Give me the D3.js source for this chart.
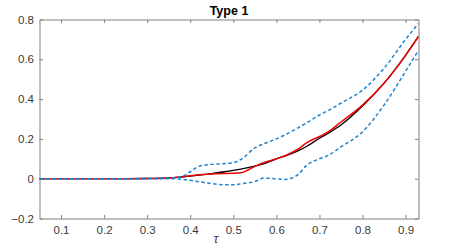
<!DOCTYPE html>
<html lang="en">

<head>
    <meta charset="utf-8">
    <title>Type 1</title>
    <script type="text/javascript" src="https://d3js.org/d3.v7.min.js"></script>
    <style type="text/css">
        body { margin: 0; background: #fff; }
        text { font-family: 'Liberation Sans', Arial, sans-serif; }
    </style>
</head>

<body>
    <script type="text/javascript">
        //Quantile levels (x values)
        const tau = [0.05, 0.1, 0.15, 0.2, 0.25, 0.3, 0.35, 0.38, 0.4, 0.42, 0.45, 0.48, 0.5, 0.52,
            0.55, 0.57, 0.6, 0.62, 0.65, 0.67, 0.7, 0.72, 0.75, 0.8, 0.85, 0.9, 0.93];

        //True curve (black)
        const truth = [0, 0, 0, 0, 0, 0.001, 0.004, 0.008, 0.013, 0.018, 0.026, 0.035, 0.042, 0.049,
            0.063, 0.074, 0.1, 0.114, 0.14, 0.162, 0.203, 0.228, 0.27, 0.365, 0.48, 0.62, 0.715];

        //Estimate (red)
        const estimate = [0, 0, 0, 0, 0, 0.001, 0.004, 0.01, 0.015, 0.02, 0.024, 0.026, 0.027, 0.031,
            0.062, 0.08, 0.1, 0.115, 0.148, 0.18, 0.212, 0.235, 0.285, 0.37, 0.48, 0.62, 0.715];

        //Confidence bands (blue dashed)
        const upper = [0, 0, 0, 0, 0, 0.001, 0.003, 0.01, 0.035, 0.062, 0.072, 0.076, 0.08, 0.1,
            0.155, 0.175, 0.2, 0.22, 0.255, 0.28, 0.32, 0.342, 0.38, 0.445, 0.555, 0.70, 0.78];
        const lower = [0, 0, 0, 0, 0, 0, 0, -0.003, -0.008, -0.015, -0.025, -0.03, -0.03, -0.025,
            -0.014, 0.003, 0, -0.004, 0.02, 0.067, 0.1, 0.117, 0.16, 0.235, 0.37, 0.54, 0.645];

        const xTicks = [0.1, 0.2, 0.3, 0.4, 0.5, 0.6, 0.7, 0.8, 0.9];
        const yTicks = [-0.2, 0, 0.2, 0.4, 0.6, 0.8];

        //Canvas attributes
        const canvasWidth = 451;
        const canvasHeight = 249;
        const plotLeft = 39.5, plotRight = 418.5, plotTop = 19.5, plotBottom = 218.5;

        //Scales
        const xScale = d3.scaleLinear()
            .domain([0.05, 0.93])
            .range([plotLeft, plotRight])

        const yScale = d3.scaleLinear()
            .domain([-0.2, 0.8])
            .range([plotBottom, plotTop])

        const svg = d3.select('body')
            .append('svg')
            .attr('width', canvasWidth)
            .attr('height', canvasHeight)

        svg.append('clipPath')
            .attr('id', 'plot-clip')
            .append('rect')
            .attr('x', plotLeft)
            .attr('y', plotTop - 5)
            .attr('width', plotRight - plotLeft)
            .attr('height', plotBottom - plotTop + 5)

        //Axes, MATLAB box style with inward ticks
        const axisColor = '#808080';
        const tickLen = 3.5;

        const bottomAxis = d3.axisBottom(xScale)
            .tickValues(xTicks)
            .tickSizeInner(-tickLen)
            .tickSizeOuter(0)
            .tickPadding(7.5)
            .tickFormat(d3.format('.1f'))
        const topAxis = d3.axisTop(xScale)
            .tickValues(xTicks)
            .tickSizeInner(-tickLen)
            .tickSizeOuter(0)
            .tickFormat('')
        const leftAxis = d3.axisLeft(yScale)
            .tickValues(yTicks)
            .tickSizeInner(-tickLen)
            .tickSizeOuter(0)
            .tickPadding(5.5)
            .tickFormat(d => d === 0 ? '0' : d3.format('.1f')(d))
        const rightAxis = d3.axisRight(yScale)
            .tickValues(yTicks)
            .tickSizeInner(-tickLen)
            .tickSizeOuter(0)
            .tickFormat('')

        const axes = [
            [bottomAxis, 'translate(0,' + plotBottom + ')'],
            [topAxis, 'translate(0,' + plotTop + ')'],
            [leftAxis, 'translate(' + plotLeft + ',0)'],
            [rightAxis, 'translate(' + plotRight + ',0)']
        ]
        axes.forEach(([ax, tr]) => {
            const g = svg.append('g').attr('transform', tr).call(ax)
            g.select('.domain').attr('stroke', axisColor).attr('stroke-width', 1)
            g.selectAll('.tick line').attr('stroke', axisColor)
            g.selectAll('.tick text')
                .attr('fill', '#3a3a3a')
                .attr('font-size', 11.5)
                .attr('font-family', "'Liberation Sans', Arial, sans-serif")
        })

        //Lines
        const rows = tau.map((t, i) => ({ t: t, truth: truth[i], est: estimate[i], up: upper[i], lo: lower[i] }))
        const lineFor = key => d3.line()
            .x(d => xScale(d.t))
            .y(d => yScale(d[key]))
            .curve(d3.curveMonotoneX)

        const lines = svg.append('g').attr('clip-path', 'url(#plot-clip)')

        lines.append('path')
            .datum(rows)
            .attr('d', lineFor('truth'))
            .attr('fill', 'none')
            .attr('stroke', '#000')
            .attr('stroke-width', 1.3)

        lines.append('path')
            .datum(rows)
            .attr('d', lineFor('est'))
            .attr('fill', 'none')
            .attr('stroke', '#ee0000')
            .attr('stroke-width', 1.5)

        ;['up', 'lo'].forEach(key => {
            lines.append('path')
                .datum(rows)
                .attr('d', lineFor(key))
                .attr('fill', 'none')
                .attr('stroke', '#1f84d0')
                .attr('stroke-width', 1.5)
                .attr('stroke-dasharray', '3.5,2.5')
        })

        //Title
        svg.append('text')
            .attr('x', 229)
            .attr('y', 14.5)
            .attr('text-anchor', 'middle')
            .attr('font-size', 12.5)
            .attr('font-weight', 'bold')
            .attr('fill', '#000')
            .text('Type 1')

        //x label
        svg.append('text')
            .attr('x', 216)
            .attr('y', 243)
            .attr('text-anchor', 'middle')
            .attr('font-size', 12)
            .attr('font-style', 'italic')
            .attr('fill', '#333')
            .text('τ')
    </script>
</body>

</html>
